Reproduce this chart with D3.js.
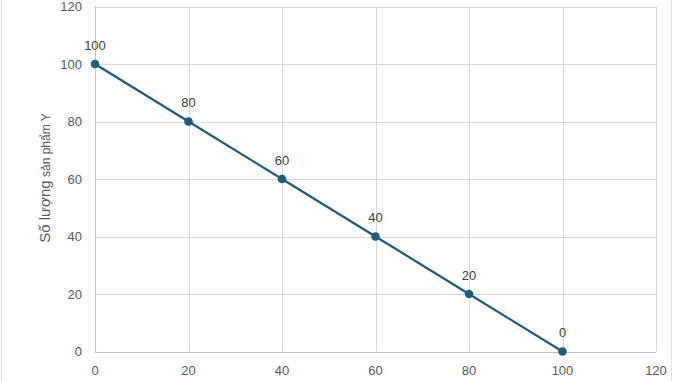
<!DOCTYPE html>
<html><head><meta charset="utf-8">
<script src="https://cdn.jsdelivr.net/npm/d3@7"></script>
<style>body{margin:0;background:#fff}svg{display:block}</style>
</head><body>
<script>
const xValues = [0, 20, 40, 60, 80, 100];
const yValues = [100, 80, 60, 40, 20, 0];
const xTicks = [0, 20, 40, 60, 80, 100, 120];
const yTicks = [0, 20, 40, 60, 80, 100, 120];
const yTitleA = "Số lượng";
const yTitleB = " sản phẩm Y";

const W = 678, H = 381;
const svg = d3.select("body").append("svg").attr("width", W).attr("height", H);
const x = d3.scaleLinear().domain([0, 120]).range([95, 656]);
const y = d3.scaleLinear().domain([0, 120]).range([351.5, 6.5]);
const font = "Liberation Sans, Arial, sans-serif";

// outer borders
svg.append("line").attr("x1", 1.5).attr("x2", 1.5).attr("y1", 0).attr("y2", H).attr("stroke", "#d9d9d9");
svg.append("line").attr("x1", 671.5).attr("x2", 671.5).attr("y1", 0).attr("y2", H).attr("stroke", "#e3e3e3");

// gridlines
svg.append("g").selectAll("line").data(yTicks).join("line")
  .attr("x1", x(0)).attr("x2", x(120)).attr("y1", d => Math.round(y(d)) + 0.5).attr("y2", d => Math.round(y(d)) + 0.5)
  .attr("stroke", "#d9d9d9").attr("stroke-width", 1);
svg.append("g").selectAll("line").data(xTicks).join("line")
  .attr("y1", y(0)).attr("y2", y(120)).attr("x1", d => Math.round(x(d)) + 0.5).attr("x2", d => Math.round(x(d)) + 0.5)
  .attr("stroke", "#d9d9d9").attr("stroke-width", 1);

// axis lines
svg.append("line").attr("x1", x(0)).attr("x2", x(120)).attr("y1", Math.round(y(0)) + 0.5).attr("y2", Math.round(y(0)) + 0.5).attr("stroke", "#bfbfbf");
svg.append("line").attr("x1", Math.round(x(0)) + 0.5).attr("x2", Math.round(x(0)) + 0.5).attr("y1", y(0)).attr("y2", y(120)).attr("stroke", "#bfbfbf");

// tick labels
svg.append("g").selectAll("text").data(yTicks).join("text")
  .attr("x", 82).attr("y", d => y(d)).attr("dy", "0.35em").attr("text-anchor", "end")
  .attr("font-family", font).attr("font-size", 13).attr("fill", "#595959").text(d => d);
svg.append("g").selectAll("text").data(xTicks).join("text")
  .attr("x", d => x(d)).attr("y", 370).attr("dy", "0.35em").attr("text-anchor", "middle")
  .attr("font-family", font).attr("font-size", 13).attr("fill", "#595959").text(d => d);

// y title (mixed sizes as in the reference)
const t = svg.append("text").attr("transform", `translate(50,178) rotate(-90)`)
  .attr("text-anchor", "middle").attr("font-family", font).attr("fill", "#595959");
t.append("tspan").attr("font-size", 15).text(yTitleA);
t.append("tspan").attr("font-size", 12).text(yTitleB);

const data = xValues.map((v, i) => ({x: v, y: yValues[i]}));
const color = "#1f5d79";
svg.append("path").datum(data)
  .attr("d", d3.line().x(d => x(d.x)).y(d => y(d.y)))
  .attr("fill", "none").attr("stroke", color).attr("stroke-width", 2.25);
svg.append("g").selectAll("circle").data(data).join("circle")
  .attr("cx", d => x(d.x)).attr("cy", d => y(d.y)).attr("r", 4.3).attr("fill", color);
svg.append("g").selectAll("text").data(data).join("text")
  .attr("x", d => x(d.x)).attr("y", d => y(d.y) - 19).attr("dy", "0.35em").attr("text-anchor", "middle")
  .attr("font-family", font).attr("font-size", 13).attr("fill", "#404040").text(d => d.y);
</script>
</body></html>
